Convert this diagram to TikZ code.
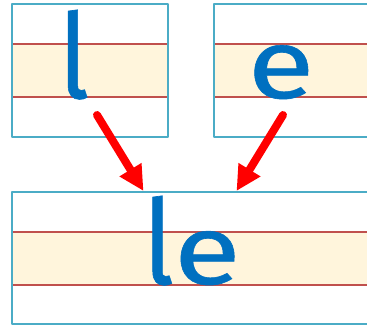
\documentclass[tikz,border=0pt]{standalone}
\usepackage[usenames,dvipsnames]{xcolor}
\usepackage{tkz-euclide}
\usepackage{fontspec}
\usetikzlibrary{arrows.meta}
\newfontfamily\letterfont[FakeStretch=1.25,FakeBold=0.6]{Fira Sans}
\definecolor{boxBlue}{RGB}{75,172,198}
\definecolor{lineRed}{RGB}{192,80,77}
\definecolor{bandYellow}{RGB}{255,245,220}
\definecolor{letterBlue}{RGB}{0,112,192}
\tikzset{boxline/.style={draw=boxBlue,line width=2pt},
  redline/.style={draw=lineRed,line width=2pt},
  letter/.style={anchor=base,inner sep=0pt,text=letterBlue,font=\letterfont\fontsize{98}{98}\selectfont},
  bigarrow/.style={draw=red,line width=8pt,-{Triangle[length=25pt,width=24pt]}}}
\newcommand{\tallL}{\scalebox{0.85}[1.2]{l}}
\begin{document}
\begin{tikzpicture}[x=1pt,y=-1pt]
\useasboundingbox (0,0) rectangle (367,325);
\tkzDefPoint(12,4){LA}\tkzDefPoint(168,4){LB}
\tkzDefPoint(168,137){LC}\tkzDefPoint(12,137){LD}
\tkzDefPoint(12,43.5){LP}\tkzDefPoint(168,43.5){LQ}
\tkzDefPoint(168,97){LR}\tkzDefPoint(12,97){LS}
\tkzDefPoint(214,4){RA}\tkzDefPoint(380,4){RB}
\tkzDefPoint(380,137){RC}\tkzDefPoint(214,137){RD}
\tkzDefPoint(214,43.5){RP}\tkzDefPoint(380,43.5){RQ}
\tkzDefPoint(380,97){RR}\tkzDefPoint(214,97){RS}
\tkzDefPoint(12,192){BA}\tkzDefPoint(380,192){BB}
\tkzDefPoint(380,324){BC}\tkzDefPoint(12,324){BD}
\tkzDefPoint(12,232){BP}\tkzDefPoint(380,232){BQ}
\tkzDefPoint(380,284.5){BR}\tkzDefPoint(12,284.5){BS}
\tkzDefPoint(74,98){l_{base}}\tkzDefPoint(281,98){e_{base}}
\tkzDefPoint(192,284){le_{base}}
\tkzDefPoint(97,115){S_{L}}\tkzDefPoint(143.5,191){T_{L}}
\tkzDefPoint(283,115){S_{R}}\tkzDefPoint(236.5,191){T_{R}}
\tkzFillPolygon[fill=bandYellow](LP,LQ,LR,LS)
\tkzFillPolygon[fill=bandYellow](RP,RQ,RR,RS)
\tkzFillPolygon[fill=bandYellow](BP,BQ,BR,BS)
\tkzDrawSegments[redline](LP,LQ LS,LR RP,RQ RS,RR BP,BQ BS,BR)
\tkzDrawPolygon[boxline](LA,LB,LC,LD)
\tkzDrawPolygon[boxline](RA,RB,RC,RD)
\tkzDrawPolygon[boxline](BA,BB,BC,BD)
\node[letter] (l) at (l_{base}) {\tallL};
\node[letter] (e) at (e_{base}) {e};
\node[letter] (le) at (le_{base}) {\tallL e};
\tkzDrawSegments[bigarrow](S_{L},T_{L} S_{R},T_{R})
\end{tikzpicture}
\end{document}
